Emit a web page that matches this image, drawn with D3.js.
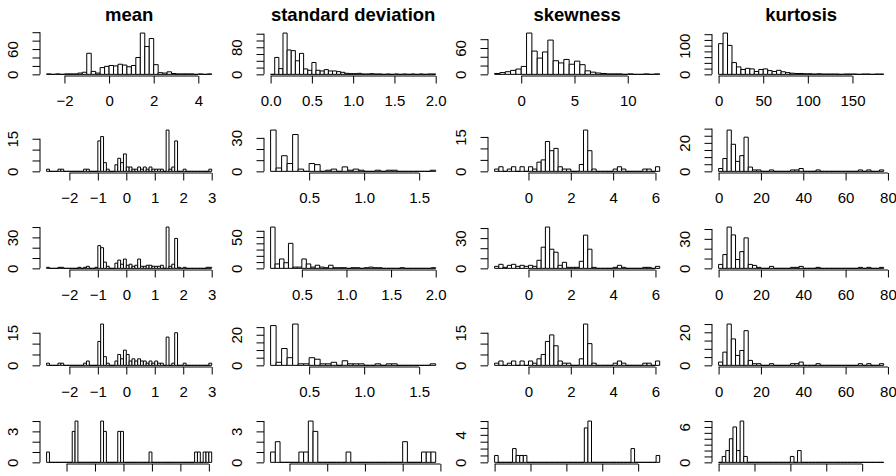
<!DOCTYPE html>
<html><head><meta charset="utf-8">
<script src="https://cdn.jsdelivr.net/npm/d3@7"></script>
<style>body{margin:0;background:#fff}</style>
</head><body><svg id="c" width="896" height="476" style="background:#fff"></svg>
<script>
const titles = ["mean", "standard deviation", "skewness", "kurtosis"];

// histogram break start and bin width, rows 1..5
const meanStart = [-2.8, -2.8, -2.8, -2.8, -1.35], meanWidth = [0.2, 0.1, 0.1, 0.1, 0.05];
const sdStart = [0, 0.15, 0.15, 0.15, 0.1], sdWidth = [0.05, 0.05, 0.05, 0.05, 0.025];
const skewStart = [-2.5, -1.6, -1.6, -1.6, 0], skewWidth = [0.5, 0.2, 0.2, 0.2, 0.1];
const kurtStart = [0, 0, 0, 0, 0], kurtWidth = [5, 2, 2, 2, 1];

// counts
const meanCounts1 = [1,0,1,0,1,1,1,3,5,50,7,3,16,19,21,20,24,22,18,21,40,98,66,85,23,4,3,6,2,1,1,1,1,0,1,0,1];
const meanCounts2 = [1,0,0,0,1,1,0,0,0,0, 0,0,0,1,1,0,0,0,14,16, 4,1,0,0,3,6,4,8,2,2, 1,1,2,1,2,1,2,1,1,1, 1,0,19,1,2,14,0,0,1,0, 0,0,0,0,0,0,0,1];
const meanCounts3 = [1,0,0,0,1,1,0,0,0,0, 0,1,0,1,2,0,0,1,22,20, 6,2,0,0,5,8,4,9,3,4, 2,3,9,2,2,3,3,2,2,2, 3,0,40,2,4,29,1,0,1,0, 0,0,0,0,0,0,1,1];
const meanCounts4 = [1,0,0,0,1,1,0,0,0,0, 0,0,0,1,2,0,0,0,11,19, 4,1,0,0,2,5,3,7,5,2, 3,2,3,2,2,1,2,1,2,1, 1,0,13,0,1,15,0,0,1,0, 0,0,0,0,0,0,0,1];
const meanCounts5 = [1,0,0,0,0,0,0,0,0,3, 4,0,0,0,0,0,0,0,0,4, 3,0,0,0,0,3,3,0,0,0, 0,0,0,0,0,0,1,0,0,0, 0,0,0,0,0,0,0,0,0,0, 0,0,1,1,0,1,1,1];

const sdCounts1 = [0,50,17,122,72,70,40,62,16,12, 35,12,10,14,10,10,8,6,3,2, 2,3,1,1,2,1,1,0,1,0, 1,0,1,0,1,0,1,0,1,1];
const sdCounts2 = [37,3,14,7,33,2,0,7,6,0, 1,2,0,4,1,2,1,0,0,1, 0,1,1,0,0,0,0,0,0,1];
const sdCounts3 = [66,7,15,9,40,2,2,15,7,2, 5,2,1,5,1,1,1,0,1,1, 0,1,2,1,1,0,0,0,0,1, 0,0,0,0,0,0,1];
const sdCounts4 = [26,2,11,5,27,1,1,5,4,1, 1,2,0,3,1,1,1,0,0,1, 0,1,1,0,0,0,0,0,0,1];
const sdCounts5 = [1,2,0,0,0,0,1,1,4,3, 0,0,0,0,0,0,1,0,0,0, 0,0,0,0,0,0,0,0,2,0, 0,0,1,1,1];

const skewCounts1 = [2,4,6,9,12,18,94,53,37,51, 78,31,26,34,23,30,22,8,5,3, 2,1,1,1,0,1,0,0,1,0, 1];
const skewCounts2 = [1,2,0,1,2,0,2,0,2,1, 4,5,13,9,10,2,1,1,0,0, 3,18,9,1,0,0,0,0,1,2, 1,0,0,0,0,1,1,0,2];
const skewCounts3 = [2,4,1,3,4,2,3,2,3,2, 8,21,41,19,16,3,6,1,1,1, 7,33,19,1,0,0,0,0,1,3, 1,0,0,0,0,1,1,0,2];
const skewCounts4 = [1,2,0,1,2,0,2,0,2,1, 3,5,11,14,9,2,1,1,0,0, 3,19,10,1,0,0,0,0,1,2, 1,0,0,0,0,1,1,0,2];
const skewCounts5 = [1,0,0,0,0,2,1,1,1,0, 0,0,0,0,0,0,0,0,0,0, 0,0,0,0,0,5,6,0,0,0, 0,0,0,0,0,0,0,0,2,0, 0,0,0,0,0,1];

const kurtCounts1 = [107,144,101,41,26,17,21,19,10,17, 19,13,10,14,9,6,4,3,3,2, 2,1,2,1,1,1,1,0,1,1, 1,0,1,1,0,1,1];
const kurtCounts2 = [2,9,29,19,7,11,24,3,1,1, 0,0,1,0,0,0,0,1,1,2, 0,0,0,1,0,0,0,0,0,0, 0,0,0,1,0,1,0,0,1];
const kurtCounts3 = [4,14,42,34,9,17,31,4,3,1, 0,0,2,0,0,0,0,1,1,2, 0,0,0,1,0,0,0,0,0,0, 0,0,0,1,0,1,0,0,1];
const kurtCounts4 = [2,8,25,16,6,9,21,3,1,1, 0,0,1,0,0,0,0,1,1,2, 0,0,0,1,0,0,0,0,0,0, 0,0,0,1,0,1,0,0,1];
const kurtCounts5 = [0,1,2,4,6,2,7,1,0,0, 0,0,0,0,0,0,0,0,0,0, 1,0,2,0,0,0,0,0,0,0, 0,0,0,0,0,0,0,0,0,0, 0,0,0,0,0,0];

// x tick values
const meanXTicks = [[-2,0,2,4], [-2,-1,0,1,2,3], [-2,-1,0,1,2,3], [-2,-1,0,1,2,3], [-1,-0.5,0,0.5,1,1.5]];
const sdXTicks = [[0,0.5,1,1.5,2], [0.5,1,1.5], [0.5,1,1.5,2], [0.5,1,1.5], [0.2,0.4,0.6,0.8,1]];
const skewXTicks = [[0,5,10], [0,2,4,6], [0,2,4,6], [0,2,4,6], [0,1,2,3,4]];
const kurtXTicks = [[0,50,100,150], [0,20,40,60,80], [0,20,40,60,80], [0,20,40,60,80], [0,10,20,30,40]];
// bottom row: its tick labels fall below the visible page, as in the reference
const xLabelRows = [true, true, true, true, false];

// y tick steps and the y tick labels that are shown
const meanYStep = [20,5,10,5,1], sdYStep = [20,10,10,5,1], skewYStep = [20,5,10,5,1], kurtYStep = [20,5,10,5,1];
const meanYLabels = [[0,60],[0,15],[0,30],[0,15],[0,3]];
const sdYLabels = [[0,80],[0,30],[0,50],[0,20],[0,3]];
const skewYLabels = [[0,60],[0,15],[0,30],[0,15],[0,4]];
const kurtYLabels = [[0,100],[0,20],[0,30],[0,20],[0,6]];

const stats = [
  {start: meanStart, width: meanWidth, counts: [meanCounts1, meanCounts2, meanCounts3, meanCounts4, meanCounts5], xTicks: meanXTicks, yStep: meanYStep, yLabels: meanYLabels},
  {start: sdStart, width: sdWidth, counts: [sdCounts1, sdCounts2, sdCounts3, sdCounts4, sdCounts5], xTicks: sdXTicks, yStep: sdYStep, yLabels: sdYLabels},
  {start: skewStart, width: skewWidth, counts: [skewCounts1, skewCounts2, skewCounts3, skewCounts4, skewCounts5], xTicks: skewXTicks, yStep: skewYStep, yLabels: skewYLabels},
  {start: kurtStart, width: kurtWidth, counts: [kurtCounts1, kurtCounts2, kurtCounts3, kurtCounts4, kurtCounts5], xTicks: kurtXTicks, yStep: kurtYStep, yLabels: kurtYLabels}
];

const FONT = '"Liberation Sans", Arial, Helvetica, sans-serif';
const colW = 224, rowH = 97;
const plotL = 40, plotR = 218.3, plotT = 31.4, plotB = 76;
const tick = 7.5;

function fmt(ticks) {
  const dec = d3.max(ticks, t => { const s = String(t); return s.includes(".") ? s.split(".")[1].length : 0; });
  return d => d3.format("." + dec + "f")(d).replace("-", "\u2212");
}

const svg = d3.select("#c");

stats.forEach((s, c) => {
  for (let r = 0; r < 5; r++) {
    const counts = s.counts[r];
    const lo = s.start[r], w = s.width[r], hi = lo + w * counts.length;
    const pad = 0.04 * (hi - lo);
    const x = d3.scaleLinear().domain([lo - pad, hi + pad]).range([plotL, plotR]);
    const M = d3.max(counts);
    const y = d3.scaleLinear().domain([-0.04 * M, 1.04 * M]).range([plotB, plotT]);
    const g = svg.append("g").attr("transform", `translate(${c * colW},${r * rowH})`);

    g.selectAll("path.bar").data(counts).join("path").attr("class", "bar")
      .attr("d", (d, i) => {
        const x0 = x(lo + i * w), x1 = x(lo + (i + 1) * w), y0 = y(0), y1 = y(d);
        return `M${x0},${y0}V${y1}H${x1}V${y0}Z`;
      })
      .attr("fill", "#fff").attr("stroke", "#000").attr("stroke-width", 1);

    // x axis (R style: line spans first to last tick)
    const xt = s.xTicks[r];
    const xa = g.append("g").attr("transform", `translate(0,${plotB})`)
      .call(d3.axisBottom(x).tickValues(xt).tickSize(tick)
        .tickFormat(xLabelRows[r] ? fmt(xt) : () => ""));
    xa.select(".domain").remove();
    xa.append("line").attr("x1", x(xt[0])).attr("x2", x(xt[xt.length - 1]))
      .attr("stroke", "#000").attr("stroke-width", 1);
    xa.attr("font-family", FONT).attr("font-size", 15).attr("color", "#000");
    xa.selectAll("text").attr("y", 30).attr("dy", 0).attr("fill", "#000");
    if (!xLabelRows[r]) xa.selectAll("text").remove();

    // y axis
    const yt = d3.range(0, 1.04 * M + 1e-9, s.yStep[r]);
    const shown = s.yLabels[r];
    const ya = g.append("g").attr("transform", `translate(${plotL},0)`)
      .call(d3.axisLeft(y).tickValues(yt).tickSize(tick).tickFormat(d => shown.includes(d) ? String(d) : ""));
    ya.select(".domain").remove();
    ya.append("line").attr("y1", y(yt[0])).attr("y2", y(yt[yt.length - 1]))
      .attr("stroke", "#000").attr("stroke-width", 1);
    ya.attr("font-family", FONT).attr("font-size", 15).attr("color", "#000");
    ya.selectAll("text").attr("x", 0).attr("dy", 0).attr("text-anchor", "middle")
      .attr("transform", "translate(-22,0) rotate(-90)").attr("fill", "#000");

    if (r === 0) {
      g.append("text").attr("x", (plotL + plotR) / 2).attr("y", 20.5)
        .attr("text-anchor", "middle").attr("font-family", FONT)
        .attr("font-weight", "bold").attr("font-size", 18.5).text(titles[c]);
    }
  }
});
</script></body></html>
